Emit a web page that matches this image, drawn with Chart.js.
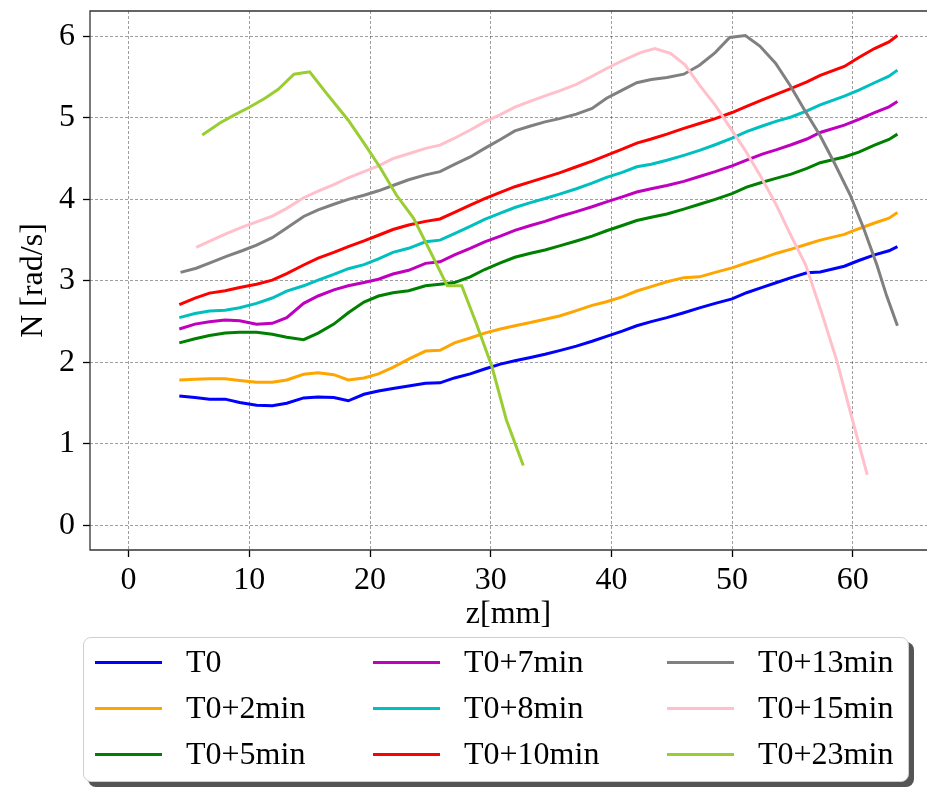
<!DOCTYPE html>
<html>
<head>
<meta charset="utf-8">
<script src="https://cdn.jsdelivr.net/npm/chart.js@4.4.0/dist/chart.umd.min.js"></script>
<style>
html,body{margin:0;padding:0;background:#fff;overflow:hidden;width:927px;height:787px;}
#wrap{position:absolute;left:0;top:0;width:927px;height:640px;}
#legend{position:absolute;left:83px;top:637px;width:826px;height:145px;border:1px solid #cfcfcf;border-radius:8px;background:#fff;box-shadow:5px 5px 0 0 #555;font-family:"Liberation Serif","Times New Roman",serif;font-size:32px;color:#000;box-sizing:border-box;}
.ln{position:absolute;width:67px;height:3px;}
.tx{position:absolute;white-space:nowrap;line-height:1;transform:translateY(-52%);}
</style>
</head>
<body>
<div id="wrap"><canvas id="c"></canvas></div>
<div id="legend"></div>
<script>
// ---- data ----
const xTicks = [0, 10, 20, 30, 40, 50, 60];
const yTicks = [0, 1, 2, 3, 4, 5, 6];

const labels = ['T0', 'T0+2min', 'T0+5min', 'T0+7min', 'T0+8min', 'T0+10min', 'T0+13min', 'T0+15min', 'T0+23min'];
const colors = ['#0000ff', '#ffa500', '#008000', '#bf00bf', '#00bfbf', '#ff0000', '#808080', '#ffc0cb', '#9acd32'];

const zMain = [4.2,5.5,6.7,8.0,9.2,10.6,11.9,13.1,14.5,15.7,17.0,18.2,19.5,20.7,21.9,23.2,24.6,25.8,27.0,28.3,29.5,30.8,32.0,33.3,34.5,35.7,37.1,38.4,39.6,40.9,42.1,43.3,44.6,46.0,47.3,48.6,50.0,51.2,52.5,53.7,54.9,56.2,57.3,59.3,60.5,61.8,63.0,63.7];

const nT0 = [1.59,1.57,1.55,1.55,1.51,1.475,1.47,1.50,1.565,1.577,1.57,1.53,1.61,1.65,1.68,1.71,1.745,1.75,1.81,1.86,1.92,1.98,2.02,2.06,2.10,2.145,2.20,2.26,2.32,2.385,2.45,2.50,2.55,2.61,2.67,2.725,2.78,2.855,2.92,2.98,3.04,3.10,3.11,3.18,3.25,3.32,3.37,3.42];
const nT2 = [1.785,1.795,1.80,1.80,1.78,1.757,1.757,1.785,1.855,1.875,1.85,1.785,1.81,1.86,1.94,2.04,2.14,2.15,2.24,2.30,2.36,2.41,2.45,2.49,2.53,2.57,2.635,2.70,2.745,2.805,2.876,2.93,2.99,3.04,3.05,3.105,3.16,3.22,3.28,3.34,3.39,3.45,3.50,3.57,3.64,3.71,3.77,3.84];
const nT5 = [2.24,2.29,2.33,2.36,2.37,2.37,2.345,2.31,2.28,2.36,2.47,2.61,2.74,2.815,2.855,2.88,2.94,2.96,2.98,3.05,3.14,3.22,3.29,3.34,3.38,3.43,3.49,3.55,3.615,3.68,3.74,3.78,3.82,3.88,3.94,4.00,4.07,4.15,4.21,4.26,4.31,4.38,4.45,4.52,4.58,4.665,4.735,4.80];
const nT7 = [2.41,2.47,2.50,2.52,2.51,2.47,2.48,2.55,2.725,2.815,2.89,2.94,2.98,3.02,3.085,3.13,3.215,3.235,3.32,3.40,3.48,3.55,3.62,3.68,3.73,3.79,3.85,3.91,3.97,4.03,4.09,4.13,4.17,4.22,4.28,4.34,4.41,4.48,4.555,4.61,4.67,4.74,4.82,4.91,4.98,5.065,5.135,5.20];
const nT8 = [2.55,2.60,2.63,2.64,2.67,2.725,2.79,2.875,2.94,3.01,3.08,3.15,3.20,3.27,3.35,3.40,3.48,3.50,3.58,3.67,3.755,3.83,3.90,3.96,4.01,4.065,4.13,4.20,4.27,4.33,4.40,4.43,4.48,4.54,4.60,4.67,4.75,4.83,4.90,4.96,5.01,5.085,5.16,5.265,5.34,5.43,5.51,5.585];
const nT10 = [2.71,2.79,2.85,2.88,2.92,2.96,3.01,3.09,3.195,3.28,3.35,3.42,3.49,3.56,3.63,3.685,3.73,3.76,3.84,3.93,4.01,4.085,4.155,4.215,4.27,4.325,4.40,4.47,4.54,4.615,4.69,4.74,4.80,4.87,4.93,4.99,5.065,5.14,5.22,5.29,5.36,5.44,5.52,5.63,5.74,5.85,5.93,6.01];

const z13 = [4.3,5.6,6.9,8.1,9.4,10.6,11.9,13.1,14.5,15.7,17.0,18.2,19.5,20.7,21.9,23.2,24.6,25.8,27.0,28.3,29.5,30.8,32.0,33.3,34.5,35.7,37.1,38.4,39.6,40.9,42.1,43.3,44.6,46.0,47.3,48.6,49.8,51.1,52.3,53.6,54.8,56.0,57.3,58.5,59.8,60.9,62.0,62.8,63.7];
const nT13 = [3.105,3.155,3.23,3.30,3.37,3.44,3.53,3.65,3.79,3.87,3.94,4.00,4.05,4.105,4.17,4.24,4.30,4.34,4.43,4.52,4.625,4.735,4.84,4.90,4.95,4.99,5.045,5.115,5.24,5.34,5.43,5.47,5.495,5.535,5.645,5.80,5.985,6.01,5.88,5.67,5.40,5.095,4.78,4.44,4.05,3.645,3.195,2.82,2.45];

const z15 = [5.6,6.9,8.1,9.4,10.6,11.9,13.1,14.5,15.7,17.0,18.2,19.5,20.7,21.9,23.2,24.6,25.8,27.0,28.3,29.5,30.8,32.0,33.3,34.5,35.7,37.1,38.4,39.6,40.9,42.4,43.6,44.9,46.1,47.3,48.6,49.8,51.1,52.3,53.6,54.8,56.1,57.4,58.7,59.9,61.2];
const nT15 = [3.41,3.50,3.58,3.66,3.725,3.795,3.89,4.02,4.10,4.18,4.265,4.34,4.41,4.50,4.56,4.625,4.665,4.75,4.85,4.95,5.04,5.13,5.205,5.27,5.33,5.41,5.51,5.605,5.70,5.80,5.85,5.79,5.65,5.40,5.155,4.89,4.60,4.30,3.95,3.58,3.195,2.62,2.01,1.335,0.62];

const z23 = [6.1,7.6,8.7,10.0,11.3,12.4,13.7,15.0,16.4,18.2,19.5,20.8,22.2,23.6,25.0,26.4,27.6,28.8,30.1,31.3,32.7];
const nT23 = [4.79,4.94,5.03,5.13,5.24,5.35,5.535,5.565,5.30,4.97,4.69,4.40,4.05,3.77,3.36,2.94,2.94,2.48,1.95,1.295,0.735];

const zSets = [zMain, zMain, zMain, zMain, zMain, zMain, z13, z15, z23];
const nSets = [nT0, nT2, nT5, nT7, nT8, nT10, nT13, nT15, nT23];

// ---- chart ----
const FAMILY = '"Liberation Serif","Times New Roman",serif';
const font = {family: FAMILY, size: 32, lineHeight: 1.2};

const datasets = labels.map((lab, i) => ({
  label: lab,
  data: zSets[i].map((z, k) => ({x: z, y: nSets[i][k]})),
  borderColor: colors[i],
  backgroundColor: colors[i],
  borderWidth: 3,
  pointRadius: 0,
  tension: 0,
  fill: false,
  order: labels.length - i
}));

// left, top and bottom spines (the right one lies outside the picture)
const spines = {
  id: 'spines',
  afterDraw(chart) {
    const {ctx, chartArea: a} = chart;
    ctx.save();
    ctx.strokeStyle = '#333';
    ctx.lineWidth = 1.3;
    ctx.setLineDash([]);
    ctx.beginPath();
    ctx.moveTo(a.right + 2, a.top);
    ctx.lineTo(a.left, a.top);
    ctx.lineTo(a.left, a.bottom);
    ctx.lineTo(a.right + 2, a.bottom);
    ctx.stroke();
    ctx.restore();
  }
};

const noPad = s => { s.paddingTop = 0; s.paddingBottom = 0; s.paddingLeft = 0; s.paddingRight = 0; };

const gridOpts = {
  color: 'rgba(0,0,0,0.42)',
  lineWidth: 0.9,
  drawTicks: true,
  tickLength: 7,
  tickColor: '#000',
  tickWidth: 1.3,
  tickBorderDash: []
};

new Chart(document.getElementById('c'), {
  type: 'line',
  data: {datasets},
  options: {
    animation: false,
    responsive: true,
    maintainAspectRatio: false,
    layout: {padding: {top: 11, right: 0, left: 0, bottom: 0}},
    plugins: {legend: {display: false}, tooltip: {enabled: false}},
    scales: {
      x: {
        type: 'linear', min: -3.2, max: 66.15,
        afterBuildTicks: s => { s.ticks = xTicks.map(v => ({value: v})); },
        afterFit: s => { s.height = 90; noPad(s); },
        ticks: {font, color: '#000', padding: 4, maxRotation: 0, autoSkip: false},
        grid: gridOpts,
        border: {display: false, dash: [3, 2]},
        title: {display: true, text: 'z[mm]', font, color: '#000', padding: {top: 0, bottom: 6}}
      },
      y: {
        type: 'linear', min: -0.30, max: 6.31,
        afterBuildTicks: s => { s.ticks = yTicks.map(v => ({value: v})); },
        afterFit: s => { s.width = 90; noPad(s); },
        ticks: {font, color: '#000', padding: 8, autoSkip: false},
        grid: gridOpts,
        border: {display: false, dash: [3, 2]},
        title: {display: true, text: 'N [rad/s]', font, color: '#000', padding: {top: 14, bottom: 0}}
      }
    }
  },
  plugins: [spines]
});

// ---- legend (HTML text, column-major, 3 rows) ----
const legend = document.getElementById('legend');
const colX = [11, 289, 583];
const rowY = [24, 70, 116];
labels.forEach((lab, i) => {
  const c = Math.floor(i / 3), r = i % 3;
  const ln = document.createElement('div');
  ln.className = 'ln';
  ln.style.left = colX[c] + 'px';
  ln.style.top = (rowY[r] - 1.5) + 'px';
  ln.style.background = colors[i];
  legend.appendChild(ln);
  const tx = document.createElement('div');
  tx.className = 'tx';
  tx.style.left = (colX[c] + 91) + 'px';
  tx.style.top = rowY[r] + 'px';
  tx.textContent = lab;
  legend.appendChild(tx);
});
</script>
</body>
</html>
